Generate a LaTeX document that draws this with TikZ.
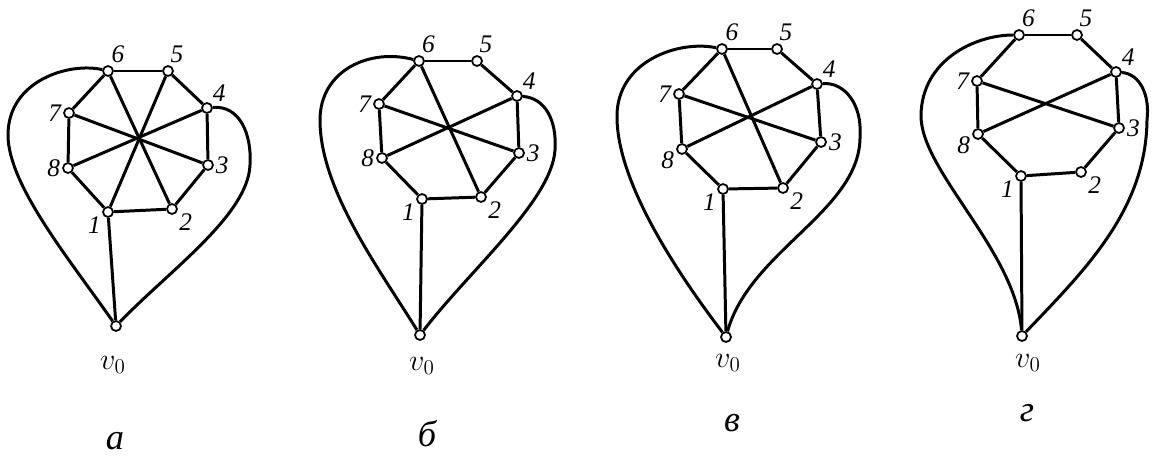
\documentclass[tikz,border=0pt]{standalone}
\usepackage{fontspec}
\setmainfont{Liberation Serif}
\begin{document}
\begin{tikzpicture}[x=0.2mm,y=-0.2mm,
  vx/.style={circle,draw,fill=white,inner sep=0pt,minimum size=2mm,line width=1pt},
  edge/.style={line width=1.7pt},
  num/.style={font=\Large\itshape,inner sep=1pt},
  root/.style={font=\LARGE},
  tag/.style={font=\huge\itshape}]
\useasboundingbox (0,0) rectangle (1152,461);

% graph a
\foreach \n/\x/\y/\p in {1/108/212/-150,2/172/209/-25,3/208/165/0,4/207/108/50,
    5/168/71/85,6/108/71/75,7/69/113/180,8/68/168/180}
  \node[vx,label={[num]\p:\n}] (a\n) at (\x,\y) {};
\node[vx] (a0) at (116,326) {};
\foreach \i/\j in {1/2,2/3,3/4,4/5,5/6,6/7,7/8,8/1,1/5,2/6,3/7,4/8,1/0}
  \draw[edge] (a\i)--(a\j);
\draw[edge] (a6) .. controls (70,62) and (8,80) .. (8,135)
  .. controls (8,185) and (70,260) .. (a0);
\draw[edge] (a4) .. controls (240,105) and (252,135) .. (250,165)
  .. controls (248,215) and (170,270) .. (a0);
\node[root] (a0l) at (113,365) {$v_0$};
\node[tag] (ta) at (115,441) {а};

% graph b
\foreach \n/\x/\y/\p in {1/422/199/-150,2/481/197/-25,3/519/153/0,4/517/96/50,
    5/477/61/85,6/419/61/80,7/379/104/180,8/382/158/180}
  \node[vx,label={[num]\p:\n}] (b\n) at (\x,\y) {};
\node[vx] (b0) at (420,335) {};
\foreach \i/\j in {1/2,2/3,3/4,4/5,5/6,6/7,7/8,8/1,2/6,3/7,4/8,1/0}
  \draw[edge] (b\i)--(b\j);
\draw[edge] (b6) .. controls (370,48) and (320,70) .. (320,120)
  .. controls (320,190) and (380,270) .. (b0);
\draw[edge] (b4) .. controls (545,98) and (557,120) .. (555,150)
  .. controls (552,200) and (470,270) .. (b0);
\node[root] (b0l) at (422,366) {$v_0$};
\node[tag] (tb) at (427,434) {б};

% graph c
\foreach \n/\x/\y/\p in {1/723/189/-150,2/783/188/-25,3/821/142/0,4/817/84/50,
    5/777/49/85,6/722/49/75,7/679/94/180,8/682/149/-170}
  \node[vx,label={[num]\p:\n}] (c\n) at (\x,\y) {};
\node[vx] (c0) at (726,337) {};
\foreach \i/\j in {1/2,2/3,3/4,4/5,5/6,6/7,7/8,8/1,2/6,3/7,4/8,1/0}
  \draw[edge] (c\i)--(c\j);
\draw[edge] (c6) .. controls (680,40) and (618,60) .. (617,115)
  .. controls (616,180) and (675,270) .. (c0);
\draw[edge] (c4) .. controls (845,82) and (862,105) .. (860,135)
  .. controls (862,210) and (750,250) .. (c0);
\node[root] (c0l) at (728,363) {$v_0$};
\node[tag] (tc) at (732,423) {в};

% graph d
\foreach \n/\x/\y/\p in {1/1021/176/-150,2/1081/172/-25,3/1119/128/0,4/1116/72/50,
    5/1077/35/85,6/1019/35/80,7/977/81/180,8/978/134/-170}
  \node[vx,label={[num]\p:\n}] (d\n) at (\x,\y) {};
\node[vx] (d0) at (1022,336) {};
\foreach \i/\j in {1/2,2/3,3/4,4/5,5/6,6/7,7/8,8/1,3/7,4/8,1/0}
  \draw[edge] (d\i)--(d\j);
\draw[edge] (d6) .. controls (975,35) and (922,60) .. (921,115)
  .. controls (920,170) and (1015,250) .. (d0);
\draw[edge] (d4) .. controls (1140,74) and (1150,95) .. (1147,120)
  .. controls (1146,210) and (1085,270) .. (d0);
\node[root] (d0l) at (1028,363) {$v_0$};
\node[tag] (td) at (1027,413) {г};
\end{tikzpicture}
\end{document}
